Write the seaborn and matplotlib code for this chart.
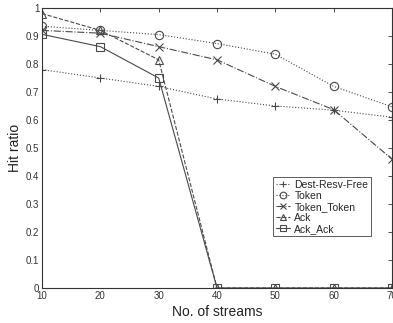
import matplotlib
matplotlib.use("Agg")
import matplotlib.pyplot as plt
import seaborn as sns
import pandas as pd

streams = [10, 20, 30, 40, 50, 60, 70]
dest_resv_free = [0.78, 0.75, 0.72, 0.675, 0.65, 0.635, 0.61]
token = [0.935, 0.92, 0.905, 0.873, 0.835, 0.72, 0.647]
token_token = [0.92, 0.91, 0.862, 0.815, 0.72, 0.637, 0.46]
ack = [0.98, 0.92, 0.815, 0.0, 0.0, 0.0, 0.0]
ack_ack = [0.906, 0.862, 0.75, 0.0, 0.0, 0.0, 0.0]

series_names = ["Dest-Resv-Free", "Token", "Token_Token", "Ack", "Ack_Ack"]
series_values = [dest_resv_free, token, token_token, ack, ack_ack]
markers = ["+", "o", "x", "^", "s"]
linestyles = [":", ":", "-.", "--", "-"]
xticks = [10, 20, 30, 40, 50, 60, 70]
yticks = [0, 0.1, 0.2, 0.3, 0.4, 0.5, 0.6, 0.7, 0.8, 0.9, 1]
ytick_labels = ["0", "0.1", "0.2", "0.3", "0.4", "0.5", "0.6", "0.7", "0.8", "0.9", "1"]

sns.set_style("white")
plt.rcParams['font.family'] = ['Liberation Sans', 'DejaVu Sans']

fig = plt.figure(figsize=(3.93, 3.23), dpi=100)
ax = fig.add_axes([42/393, 35/323, 350/393, 280/323])

col = "#4a4a4a"
for name, vals, m, ls in zip(series_names, series_values, markers, linestyles):
    df = pd.DataFrame({"x": streams, "y": vals})
    sns.lineplot(data=df, x="x", y="y", ax=ax, color=col, linestyle=ls,
                 marker=m, markersize=6, markerfacecolor="none",
                 markeredgecolor=col, markeredgewidth=0.8, linewidth=0.8,
                 label=name)

ax.set_xlim(10, 70)
ax.set_ylim(0, 1)
ax.set_xticks(xticks)
ax.set_xticklabels([str(t) for t in xticks], fontsize=7)
ax.set_yticks(yticks)
ax.set_yticklabels(ytick_labels, fontsize=7)
ax.tick_params(direction="in", length=3, top=True, right=True, width=0.6,
               colors="#333333", pad=2)
for s in ax.spines.values():
    s.set_color("#333333")
    s.set_linewidth(0.8)
ax.set_xlabel("No. of streams", fontsize=10, color="#222222", labelpad=3)
ax.set_ylabel("Hit ratio", fontsize=10, color="#222222", labelpad=3)

leg = ax.legend(loc="upper left", bbox_to_anchor=(0.66, 0.396), fontsize=7.5,
                frameon=True, fancybox=False, edgecolor="#333333",
                handlelength=1.4, borderpad=0.25, labelspacing=0.1,
                handletextpad=0.4, markerscale=0.8, borderaxespad=0)
leg.get_frame().set_linewidth(0.7)

fig.savefig("out.png", dpi=100)
